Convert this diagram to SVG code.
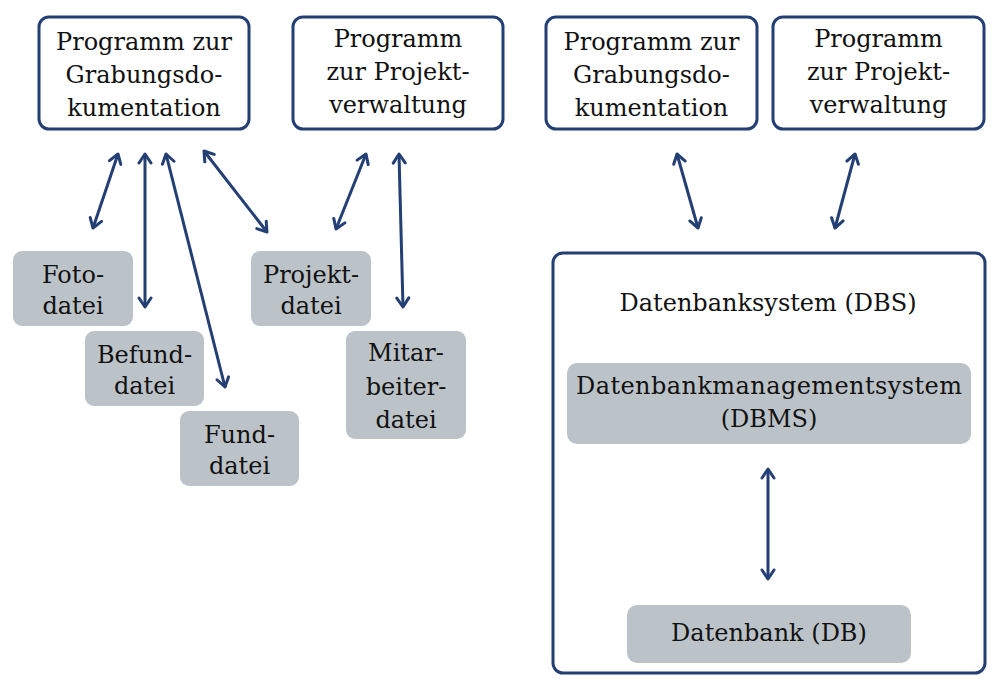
<svg xmlns="http://www.w3.org/2000/svg" width="1000" height="688" viewBox="0 0 1000 688">
<defs>
<style>
.prog{fill:#ffffff;stroke:#233f74;stroke-width:3}
.file{fill:#bcc3c8;stroke:none}
text{font-family:"DejaVu Serif","Liberation Serif",serif;font-size:24px;fill:#111111;text-anchor:middle}
.conn line{stroke:#233f74;stroke-width:3;fill:none}
</style>
<marker id="ah" markerUnits="userSpaceOnUse" markerWidth="16" markerHeight="16" viewBox="-12 -8 16 16" refX="0" refY="0" orient="auto-start-reverse">
<path d="M-9,-6 L0,0 L-9,6" fill="none" stroke="#233f74" stroke-width="3" stroke-linecap="round" stroke-linejoin="round"/>
</marker>
</defs>
<rect width="1000" height="688" fill="#ffffff"/>

<g id="prog-grabung-1">
<rect class="prog" x="39" y="17" width="210" height="112" rx="10"/>
<text x="144" y="50">Programm zur</text>
<text x="144" y="83">Grabungsdo-</text>
<text x="144" y="116">kumentation</text>
</g>
<g id="prog-projekt-1">
<rect class="prog" x="293" y="17" width="210" height="112" rx="10"/>
<text x="398" y="47">Programm</text>
<text x="398" y="80">zur Projekt-</text>
<text x="398" y="113">verwaltung</text>
</g>
<g id="prog-grabung-2">
<rect class="prog" x="546" y="17" width="211" height="112" rx="10"/>
<text x="651.5" y="50">Programm zur</text>
<text x="651.5" y="83">Grabungsdo-</text>
<text x="651.5" y="116">kumentation</text>
</g>
<g id="prog-projekt-2">
<rect class="prog" x="773" y="17" width="211" height="112" rx="10"/>
<text x="878.5" y="47">Programm</text>
<text x="878.5" y="80">zur Projekt-</text>
<text x="878.5" y="113">verwaltung</text>
</g>

<g id="fotodatei">
<rect class="file" x="13" y="251" width="120" height="75" rx="9"/>
<text x="73" y="283">Foto-</text>
<text x="73" y="314">datei</text>
</g>
<g id="befunddatei">
<rect class="file" x="85" y="331" width="119" height="75" rx="9"/>
<text x="144.5" y="363">Befund-</text>
<text x="144.5" y="394">datei</text>
</g>
<g id="funddatei">
<rect class="file" x="180" y="411" width="119" height="75" rx="9"/>
<text x="239.5" y="443">Fund-</text>
<text x="239.5" y="474">datei</text>
</g>
<g id="projektdatei">
<rect class="file" x="251" y="251" width="120" height="75" rx="9"/>
<text x="311" y="283">Projekt-</text>
<text x="311" y="314">datei</text>
</g>
<g id="mitarbeiterdatei">
<rect class="file" x="346" y="331" width="120" height="108" rx="9"/>
<text x="406" y="361">Mitar-</text>
<text x="406" y="395">beiter-</text>
<text x="406" y="428">datei</text>
</g>

<g id="dbs">
<rect class="prog" x="553" y="253" width="432" height="420" rx="10"/>
<text x="768" y="311">Datenbanksystem (DBS)</text>
</g>
<g id="dbms">
<rect class="file" x="567" y="363" width="404" height="81" rx="10"/>
<text x="769" y="394" textLength="386" lengthAdjust="spacing">Datenbankmanagementsystem</text>
<text x="769" y="427">(DBMS)</text>
</g>
<g id="db">
<rect class="file" x="627" y="605" width="284" height="58" rx="10"/>
<text x="769" y="641">Datenbank (DB)</text>
</g>

<g id="connectors" class="conn">
<line x1="118" y1="154" x2="93" y2="228" marker-start="url(#ah)" marker-end="url(#ah)"/>
<line x1="145" y1="154" x2="145" y2="307" marker-start="url(#ah)" marker-end="url(#ah)"/>
<line x1="166" y1="154" x2="225" y2="387" marker-start="url(#ah)" marker-end="url(#ah)"/>
<line x1="204" y1="151" x2="267" y2="232" marker-start="url(#ah)" marker-end="url(#ah)"/>
<line x1="366" y1="154" x2="336" y2="229" marker-start="url(#ah)" marker-end="url(#ah)"/>
<line x1="399" y1="154" x2="403" y2="307" marker-start="url(#ah)" marker-end="url(#ah)"/>
<line x1="677" y1="154" x2="698" y2="228" marker-start="url(#ah)" marker-end="url(#ah)"/>
<line x1="855" y1="154" x2="835" y2="228" marker-start="url(#ah)" marker-end="url(#ah)"/>
<line x1="768" y1="469" x2="768" y2="579" marker-start="url(#ah)" marker-end="url(#ah)"/>
</g>
</svg>
